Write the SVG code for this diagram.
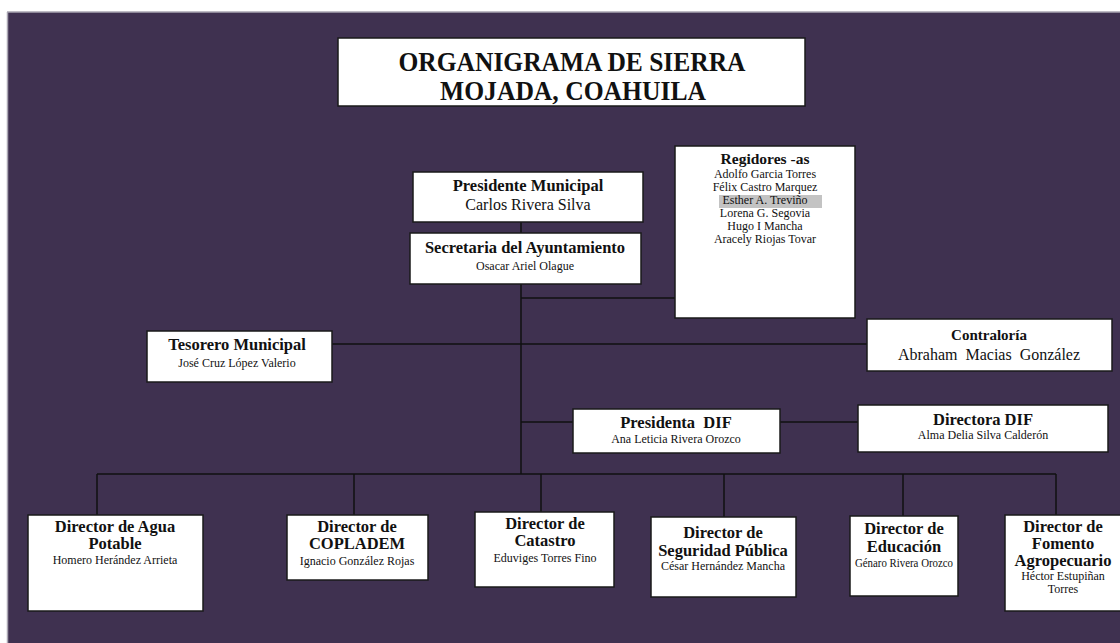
<svg xmlns="http://www.w3.org/2000/svg" width="1120" height="643" viewBox="0 0 1120 643">
<style>
.box{fill:#fff;stroke:#1a1a1a;stroke-width:1.5}
.b{font-family:"Liberation Serif","Times New Roman",serif;font-weight:bold;fill:#111;text-anchor:middle}
.r{font-family:"Liberation Serif","Times New Roman",serif;fill:#111;text-anchor:middle}
.h{font-size:16.5px}
.s{font-size:12px}
.m{font-size:16px}
.ln{stroke:#111;stroke-width:1.5;fill:none}
</style>
<rect x="0" y="0" width="1120" height="643" fill="#fff"/>
<rect x="8" y="12" width="1112" height="631" fill="#3f3150"/>
<line x1="7" y1="12" x2="1120" y2="12" stroke="#aaa6b2" stroke-width="1.5"/>
<line x1="7.5" y1="12" x2="7.5" y2="643" stroke="#aaa6b2" stroke-width="1.5"/>

<g id="connectors">
<line class="ln" x1="521" y1="222" x2="521" y2="474"/>
<line class="ln" x1="521" y1="298" x2="675" y2="298"/>
<line class="ln" x1="332" y1="344" x2="867" y2="344"/>
<line class="ln" x1="521" y1="422" x2="573" y2="422"/>
<line class="ln" x1="780" y1="422" x2="858" y2="422"/>
<line class="ln" x1="97" y1="474" x2="1056" y2="474"/>
<line class="ln" x1="97" y1="474" x2="97" y2="515"/>
<line class="ln" x1="354" y1="474" x2="354" y2="515"/>
<line class="ln" x1="541" y1="474" x2="541" y2="512"/>
<line class="ln" x1="724" y1="474" x2="724" y2="517"/>
<line class="ln" x1="903" y1="474" x2="903" y2="516"/>
<line class="ln" x1="1056" y1="474" x2="1056" y2="515"/>
</g>

<g id="title">
<rect class="box" x="338" y="38" width="467" height="68"/>
<text class="b" x="572" y="71" font-size="27" textLength="347" lengthAdjust="spacingAndGlyphs">ORGANIGRAMA DE SIERRA</text>
<text class="b" x="573" y="100" font-size="27" textLength="266" lengthAdjust="spacingAndGlyphs">MOJADA, COAHUILA</text>
</g>

<g id="presidente">
<rect class="box" x="413" y="172" width="230" height="50"/>
<text class="b h" x="528" y="191">Presidente Municipal</text>
<text class="r m" x="528" y="210">Carlos Rivera Silva</text>
</g>

<g id="secretaria">
<rect class="box" x="410" y="233" width="231" height="51"/>
<text class="b h" x="525" y="253">Secretaria del Ayuntamiento</text>
<text class="r s" x="525" y="270">Osacar Ariel Olague</text>
</g>

<g id="regidores">
<rect class="box" x="675" y="146" width="180" height="172"/>
<text class="b" x="765" y="164" font-size="15.5">Regidores -as</text>
<text class="r s" x="765" y="178">Adolfo Garcia Torres</text>
<text class="r s" x="765" y="191">Félix Castro Marquez</text>
<rect x="719" y="195" width="103" height="13" fill="#c3c3c3"/>
<text class="r s" x="765" y="204" fill="#444">Esther A. Treviño</text>
<text class="r s" x="765" y="217">Lorena G. Segovia</text>
<text class="r s" x="765" y="230">Hugo I Mancha</text>
<text class="r s" x="765" y="243">Aracely Riojas Tovar</text>
</g>

<g id="tesorero">
<rect class="box" x="147" y="331" width="185" height="51"/>
<text class="b h" x="237" y="350">Tesorero Municipal</text>
<text class="r s" x="237" y="367">José Cruz López Valerio</text>
</g>

<g id="contraloria">
<rect class="box" x="867" y="319" width="245" height="52"/>
<text class="b" x="989" y="340" font-size="15">Contraloría</text>
<text class="r m" x="989" y="360" xml:space="preserve">Abraham  Macias  González</text>
</g>

<g id="presidenta-dif">
<rect class="box" x="573" y="409" width="207" height="44"/>
<text class="b h" x="676" y="428" xml:space="preserve">Presidenta  DIF</text>
<text class="r s" x="676" y="443">Ana Leticia Rivera Orozco</text>
</g>

<g id="directora-dif">
<rect class="box" x="858" y="405" width="250" height="47"/>
<text class="b h" x="983" y="425">Directora DIF</text>
<text class="r s" x="983" y="439">Alma Delia Silva Calderón</text>
</g>

<g id="agua">
<rect class="box" x="28" y="515" width="175" height="96"/>
<text class="b h" x="115" y="532">Director de Agua</text>
<text class="b h" x="115" y="549">Potable</text>
<text class="r s" x="115" y="564">Homero Herández Arrieta</text>
</g>

<g id="copladem">
<rect class="box" x="287" y="515" width="141" height="65"/>
<text class="b h" x="357" y="532">Director de</text>
<text class="b h" x="357" y="549">COPLADEM</text>
<text class="r s" x="357" y="565">Ignacio González Rojas</text>
</g>

<g id="catastro">
<rect class="box" x="475" y="512" width="139" height="75"/>
<text class="b h" x="545" y="529">Director de</text>
<text class="b h" x="545" y="546">Catastro</text>
<text class="r s" x="545" y="562">Eduviges Torres Fino</text>
</g>

<g id="seguridad">
<rect class="box" x="651" y="517" width="145" height="80"/>
<text class="b h" x="723" y="538">Director de</text>
<text class="b h" x="723" y="556">Seguridad Pública</text>
<text class="r s" x="723" y="570">César Hernández Mancha</text>
</g>

<g id="educacion">
<rect class="box" x="850" y="516" width="108" height="80"/>
<text class="b h" x="904" y="534">Director de</text>
<text class="b h" x="904" y="552">Educación</text>
<text class="r s" x="904" y="567" textLength="98" lengthAdjust="spacingAndGlyphs">Génaro Rivera Orozco</text>
</g>

<g id="fomento">
<rect class="box" x="1005" y="515" width="120" height="96"/>
<text class="b h" x="1063" y="532">Director de</text>
<text class="b h" x="1063" y="549">Fomento</text>
<text class="b h" x="1063" y="566">Agropecuario</text>
<text class="r s" x="1063" y="580">Héctor Estupiñan</text>
<text class="r s" x="1063" y="593">Torres</text>
</g>
</svg>
